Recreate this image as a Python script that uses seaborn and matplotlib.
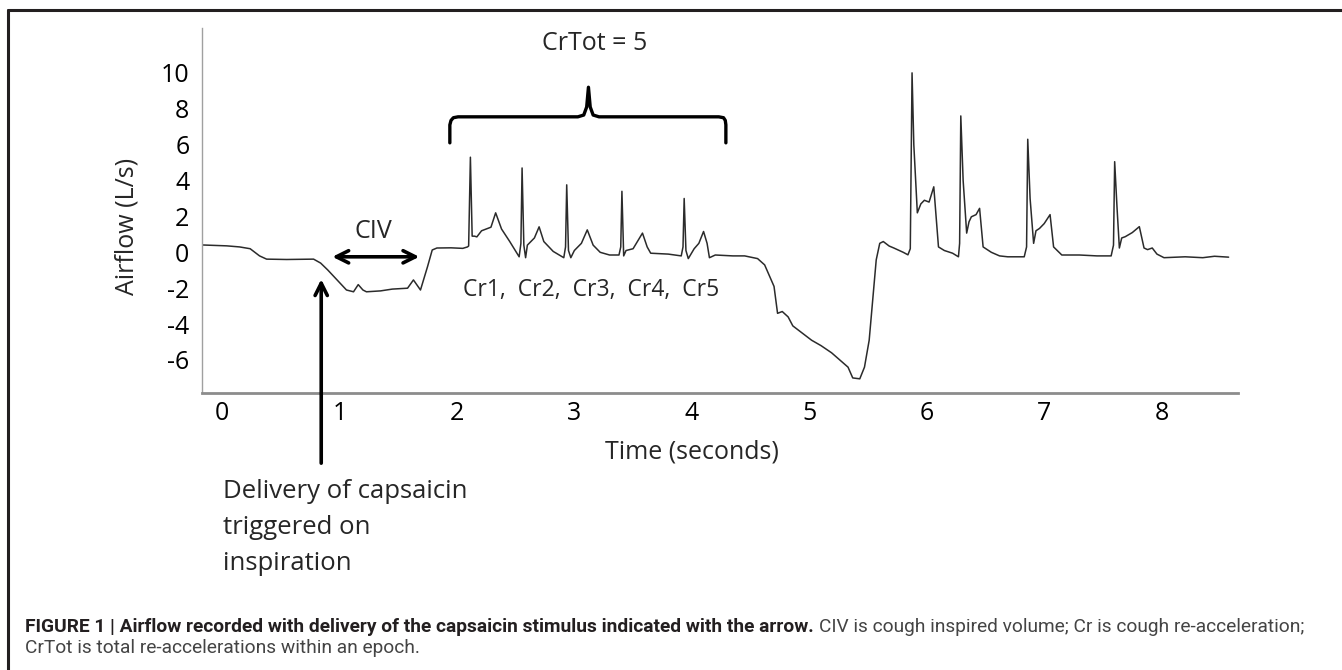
import numpy as np
import pandas as pd
import seaborn as sns
import matplotlib.pyplot as plt
from matplotlib.lines import Line2D

sns.set_style("white")
plt.rcParams['font.family'] = ['Open Sans', 'DejaVu Sans']
plt.rcParams['axes.unicode_minus'] = False

# airflow trace (seconds, L/s)
time_s = [-0.17, 0.04, 0.15, 0.24, 0.32, 0.38, 0.55, 0.78, 0.84, 0.90, 0.98, 1.06, 1.12,
          1.16, 1.20, 1.23, 1.35, 1.45, 1.58, 1.63, 1.69, 1.75, 1.79, 1.83, 1.95, 2.05,
          2.09, 2.10, 2.115, 2.13, 2.15, 2.17, 2.21, 2.25, 2.29, 2.33, 2.38, 2.45, 2.53,
          2.545, 2.555, 2.57, 2.585, 2.60, 2.66, 2.70, 2.74, 2.82, 2.91,
          2.925, 2.935, 2.95, 2.97, 3.00, 3.06, 3.11, 3.16, 3.22, 3.30, 3.38,
          3.395, 3.405, 3.42, 3.44, 3.50, 3.58, 3.62, 3.65, 3.80, 3.91,
          3.925, 3.935, 3.95, 3.97, 4.02, 4.06, 4.10, 4.13, 4.15, 4.20, 4.35, 4.45,
          4.56, 4.62, 4.65, 4.70, 4.73, 4.77, 4.82, 4.86, 4.90, 4.96, 5.02, 5.10,
          5.19, 5.26, 5.33, 5.37, 5.43, 5.47, 5.51, 5.54, 5.57, 5.60, 5.63, 5.68,
          5.72, 5.80, 5.84, 5.86, 5.875, 5.89, 5.92, 5.95, 5.98, 6.02, 6.06, 6.08,
          6.10, 6.15, 6.22, 6.27, 6.28, 6.29, 6.31, 6.34, 6.36, 6.38, 6.42, 6.45,
          6.48, 6.55, 6.62, 6.69, 6.83, 6.85, 6.86, 6.88, 6.91, 6.93, 6.96, 7.00,
          7.05, 7.08, 7.15, 7.30, 7.45, 7.57, 7.59, 7.60, 7.62, 7.64, 7.66, 7.69,
          7.75, 7.81, 7.85, 7.88, 7.92, 7.96, 8.02, 8.20, 8.35, 8.45, 8.57]
airflow = [0.41, 0.36, 0.30, 0.20, -0.20, -0.38, -0.40, -0.38, -0.60, -0.98, -1.54, -2.10, -2.20,
           -1.80, -2.10, -2.20, -2.15, -2.05, -2.00, -1.54, -2.10, -0.80, 0.13, 0.24, 0.25, 0.22,
           0.30, 0.35, 5.30, 0.90, 0.90, 0.86, 1.20, 1.30, 1.40, 2.20, 1.30, 0.60, -0.25,
           0.50, 4.70, 0.40, -0.30, 0.40, 0.80, 1.42, 0.60, 0.05, -0.30,
           0.30, 3.76, 0.10, -0.30, 0.10, 0.50, 1.25, 0.40, 0.00, -0.15, -0.15,
           0.30, 3.40, -0.20, 0.10, 0.20, 1.07, 0.30, -0.05, -0.10, -0.20,
           0.30, 3.00, 0.10, -0.35, 0.20, 0.50, 1.16, 0.50, -0.30, -0.15, -0.20, -0.20,
           -0.35, -0.70, -1.15, -1.90, -3.40, -3.30, -3.60, -4.10, -4.30, -4.60, -4.90, -5.20,
           -5.60, -6.00, -6.40, -7.00, -7.05, -6.40, -4.90, -2.65, -0.42, 0.50, 0.60, 0.35,
           0.24, 0.00, -0.14, 0.20, 10.0, 6.00, 2.20, 2.70, 2.90, 2.80, 3.65, 2.00,
           0.30, 0.10, -0.05, -0.25, 0.50, 7.60, 4.00, 1.07, 1.70, 1.98, 2.10, 2.45,
           0.30, 0.00, -0.20, -0.25, -0.25, 0.30, 6.30, 3.00, 0.50, 1.20, 1.33, 1.60,
           2.10, 0.30, -0.15, -0.15, -0.20, -0.20, 0.40, 5.05, 2.50, 0.24, 0.80, 0.87,
           1.10, 1.43, 0.24, 0.15, 0.24, -0.10, -0.30, -0.25, -0.30, -0.22, -0.27]

x_ticks = [0, 1, 2, 3, 4, 5, 6, 7, 8]
y_ticks = [-6, -4, -2, 0, 2, 4, 6, 8, 10]
cr_labels = ["Cr1", "Cr2", "Cr3", "Cr4", "Cr5"]

df = pd.DataFrame({"time": time_s, "airflow": airflow})

W, H = 1342, 670
fig = plt.figure(figsize=(W / 100, H / 100), dpi=100)
ax = fig.add_axes([202 / W, 1 - 393 / H, (1238 - 202) / W, (393 - 28) / H])

sns.lineplot(data=df, x="time", y="airflow", ax=ax, color="#2b2b2b", lw=1.1,
             sort=False, estimator=None)

ax.set_xlim(-0.17, 8.65)
ax.set_ylim(-7.84, 12.5)
ax.set_xticks(x_ticks)
ax.set_yticks(y_ticks)
ax.tick_params(length=0, labelsize=18, colors="black")
ax.tick_params(axis="y", pad=9)
ax.tick_params(axis="x", pad=6)
for s in ["top", "right"]:
    ax.spines[s].set_visible(False)
ax.spines["left"].set_color("#a0a0a0")
ax.spines["left"].set_linewidth(1.0)
ax.spines["bottom"].set_color("#8c8c8c")
ax.spines["bottom"].set_linewidth(2.0)

ax.set_xlabel("Time (seconds)", fontsize=18)
ax.xaxis.set_label_coords((692 - 202) / 1036, -0.128)
ax.set_ylabel("Airflow (L/s)", fontsize=18)
ax.yaxis.set_label_coords((140 - 202) / 1036, 0.455)

# CIV double arrow
ax.annotate("", xy=(0.94, -0.25), xytext=(1.68, -0.25),
            arrowprops=dict(arrowstyle="<->", lw=2.6, color="black",
                            mutation_scale=22, shrinkA=0, shrinkB=0))
ax.text(1.29, 1.14, "CIV", fontsize=18, ha="center", va="center")

# delivery arrow
ax.annotate("", xy=(0.845, -1.5), xytext=(0.845, -11.75),
            arrowprops=dict(arrowstyle="->", lw=2.6, color="black",
                            mutation_scale=22, shrinkA=0, shrinkB=0),
            annotation_clip=False)

# CrTot curly bracket
bx = [1.94, 1.94, 1.95, 1.97, 2.01, 3.03, 3.08, 3.105, 3.12, 3.135, 3.16, 3.21,
      4.23, 4.27, 4.285, 4.29, 4.29]
by = [6.1, 7.1, 7.35, 7.5, 7.55, 7.55, 7.65, 8.1, 9.2, 8.1, 7.65, 7.55,
      7.55, 7.5, 7.35, 7.1, 6.1]
ax.plot(bx, by, color="black", lw=2.4, solid_joinstyle="round", solid_capstyle="round")
ax.text(3.17, 11.65, "CrTot = 5", fontsize=18, ha="center", va="center")
ax.text(3.14, -2.1, ",  ".join(cr_labels), fontsize=16.5, ha="center", va="center")

for i, line in enumerate(["Delivery of capsaicin", "triggered on", "inspiration"]):
    fig.text(223 / W, 1 - (492 + 36 * i) / H, line, fontsize=18.5, ha="left", va="center")

# frame lines (top and left)
fig.add_artist(Line2D([8 / W, 8 / W], [0, 1 - 10 / H], color="#231f20", lw=2.2))
fig.add_artist(Line2D([8 / W, 1], [1 - 10 / H, 1 - 10 / H], color="#231f20", lw=2.2))

# caption
cap_font = ["Roboto", "DejaVu Sans"]
t1 = fig.text(25 / W, 1 - 627 / H,
              "FIGURE 1 | Airflow recorded with delivery of the capsaicin stimulus indicated with the arrow.",
              fontsize=13.8, weight="bold", family=cap_font, color="#231f20", va="center")
fig.canvas.draw()
bb = t1.get_window_extent()
fig.text(bb.x1 / W + 5 / W, 1 - 627 / H,
         "CIV is cough inspired volume; Cr is cough re-acceleration;",
         fontsize=13.8, family=cap_font, color="#444444", va="center")
fig.text(25 / W, 1 - 648 / H, "CrTot is total re-accelerations within an epoch.",
         fontsize=13.8, family=cap_font, color="#444444", va="center")

fig.savefig("out.png", dpi=100)
